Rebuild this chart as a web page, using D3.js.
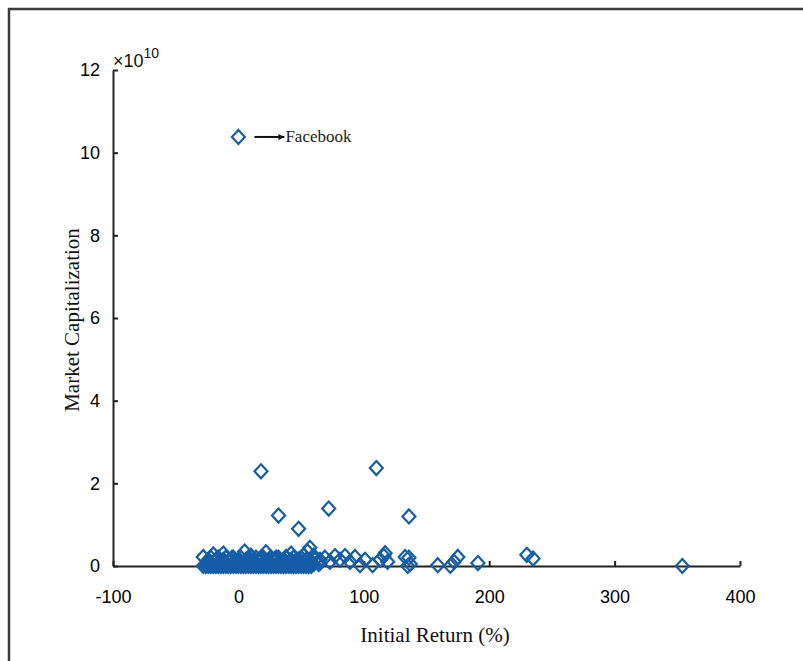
<!DOCTYPE html>
<html>
<head>
<meta charset="utf-8">
<script src="https://cdn.jsdelivr.net/npm/d3@7/dist/d3.min.js"></script>
<style>
  body { margin: 0; background: #fff; }
  svg { display: block; }
</style>
</head>
<body>
<svg id="chart" width="803" height="661"></svg>
<script>
// initial return (%) and market cap (x 1e10)
var outlierReturn = [0, 18, 110, 32, 72, 48, 136, 230, 235, 354, 191, 175, 172, 159, 169, 136, 137, 116];
var outlierCap    = [10.38, 2.29, 2.37, 1.22, 1.39, 0.9, 1.2, 0.27, 0.18, 0.0, 0.07, 0.22, 0.1, 0.02, 0.0, 0.2, 0.05, 0.24];

var rowZeroReturn = [-28, -26, -24, -22, -20, -18, -16, -14, -12, -10, -8, -6, -4, -2, 0, 2, 4, 6, 8, 10, 12, 14,
                     16, 18, 20, 22, 24, 26, 28, 30, 32, 34, 36, 38, 40, 42, 44, 46, 48, 50, 52, 54, 56, 58];
var rowLowReturn  = [-25, -21, -17, -13, -9, -5, -1, 3, 7, 11, 15, 19, 23, 27, 31, 35, 39, 43, 47, 51, 55, 60, 64];
var rowMidReturn  = [-23, -19, -15, -11, -7, -3, 1, 5, 9, 13, 17, 21, 25, 29, 33, 37, 41, 45, 49, 53, 57];
var rowHighReturn = [-24, -18, -12, -6, 0, 6, 12, 18, 24, 30, 36, 42, 48, 54];
var rowTopReturn  = [-22, -16, -10, -4, 2, 8, 14, 20, 26, 32, 38, 44, 50];
var rowZeroCap = 0, rowLowCap = 0.05, rowMidCap = 0.1, rowHighCap = 0.15, rowTopCap = 0.2;

var fringeReturn = [-28, -20, -12, -5, 5, 10, 18, 22, 30, 38, 42, 48, 52, 55, 57, 60, 65,
                    61, 65, 69, 73, 77, 81, 85, 89, 93, 97, 101, 107, 113, 117, 119, 133, 135];
var fringeCap    = [0.22, 0.28, 0.3, 0.2, 0.35, 0.25, 0.2, 0.33, 0.2, 0.22, 0.3, 0.15, 0.25, 0.35, 0.44, 0.25, 0.15,
                    0.15, 0.07, 0.2, 0.1, 0.24, 0.15, 0.24, 0.1, 0.22, 0.02, 0.15, 0.02, 0.15, 0.31, 0.1, 0.22, 0.0];

var xTicks = [-100, 0, 100, 200, 300, 400];
var yTicks = [0, 2, 4, 6, 8, 10, 12];

var points = [];
outlierReturn.forEach(function (r, i) { points.push({ r: r, c: outlierCap[i] }); });
rowZeroReturn.forEach(function (r) { points.push({ r: r, c: rowZeroCap }); });
rowLowReturn.forEach(function (r) { points.push({ r: r, c: rowLowCap }); });
rowMidReturn.forEach(function (r) { points.push({ r: r, c: rowMidCap }); });
rowHighReturn.forEach(function (r) { points.push({ r: r, c: rowHighCap }); });
rowTopReturn.forEach(function (r) { points.push({ r: r, c: rowTopCap }); });
fringeReturn.forEach(function (r, i) { points.push({ r: r, c: fringeCap[i] }); });

var svg = d3.select('#chart');

// outer frame (runs off the right and bottom of the picture)
svg.append('rect')
    .attr('x', 9).attr('y', 9)
    .attr('width', 820).attr('height', 700)
    .attr('fill', 'none')
    .attr('stroke', '#3a3a3a')
    .attr('stroke-width', 2.5);

var x = d3.scaleLinear().domain([-100, 400]).range([113, 740]);
var y = d3.scaleLinear().domain([0, 12]).range([566, 70]);

var xAxis = svg.append('g')
    .attr('transform', 'translate(0,' + y(0) + ')')
    .call(d3.axisBottom(x).tickValues(xTicks).tickSizeInner(-5).tickSizeOuter(0).tickPadding(24)
        .tickFormat(function (d) { return d; }));

var yAxis = svg.append('g')
    .attr('transform', 'translate(' + x(-100) + ',0)')
    .call(d3.axisLeft(y).tickValues(yTicks).tickSizeInner(-5).tickSizeOuter(0).tickPadding(13)
        .tickFormat(function (d) { return d; }));

[xAxis, yAxis].forEach(function (g) {
    g.selectAll('path, line').attr('stroke', '#222').attr('stroke-width', 2);
    g.selectAll('text')
        .attr('fill', '#000')
        .style('font-family', '"Liberation Sans", Arial, sans-serif')
        .style('font-size', '18px');
});

// exponent
var expo = svg.append('text')
    .attr('x', 113).attr('y', 67)
    .attr('fill', '#111')
    .style('font-family', '"Liberation Sans", Arial, sans-serif')
    .style('font-size', '18px');
expo.append('tspan').text('\u00d710');
expo.append('tspan').attr('dy', -9).style('font-size', '14px').text('10');

// markers
var diamond = 'M0,-7L6.5,0L0,7L-6.5,0Z';
svg.append('g').selectAll('path')
    .data(points)
    .enter()
    .append('path')
    .attr('d', diamond)
    .attr('transform', function (d) { return 'translate(' + x(d.r) + ',' + y(d.c) + ')'; })
    .attr('fill', 'none')
    .attr('stroke', '#155da6')
    .attr('stroke-width', 2.2);

// facebook annotation
svg.append('defs').append('marker')
    .attr('id', 'head')
    .attr('viewBox', '0 0 10 10')
    .attr('refX', 10).attr('refY', 5)
    .attr('markerWidth', 11).attr('markerHeight', 6)
    .attr('markerUnits', 'userSpaceOnUse')
    .attr('orient', 'auto')
    .append('path')
    .attr('d', 'M0,0L10,5L0,10Z')
    .attr('fill', '#111');

var fbX = x(outlierReturn[0]), fbY = y(outlierCap[0]);
svg.append('line')
    .attr('x1', fbX + 16).attr('y1', fbY)
    .attr('x2', fbX + 46).attr('y2', fbY)
    .attr('stroke', '#111')
    .attr('stroke-width', 2)
    .attr('marker-end', 'url(#head)');

svg.append('text')
    .attr('x', fbX + 47).attr('y', fbY + 5)
    .attr('fill', '#222')
    .style('font-family', '"Liberation Serif", "Times New Roman", serif')
    .style('font-size', '17px')
    .text('Facebook');

// axis titles
svg.append('text')
    .attr('x', 435).attr('y', 642)
    .attr('text-anchor', 'middle')
    .attr('fill', '#111')
    .style('font-family', '"Liberation Serif", "Times New Roman", serif')
    .style('font-size', '21px')
    .text('Initial Return (%)');

svg.append('text')
    .attr('transform', 'translate(79,320) rotate(-90)')
    .attr('text-anchor', 'middle')
    .attr('fill', '#111')
    .style('font-family', '"Liberation Serif", "Times New Roman", serif')
    .style('font-size', '21px')
    .text('Market Capitalization');
</script>
</body>
</html>
